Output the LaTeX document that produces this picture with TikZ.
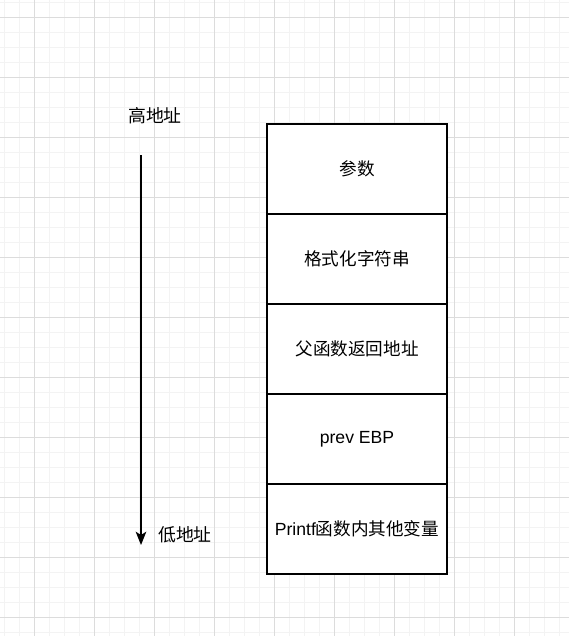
\documentclass[tikz,border=0pt]{standalone}
\usepackage{fontspec}
\setmainfont{Liberation Sans}
\newfontfamily\cjk{Noto Sans CJK SC}
\usetikzlibrary{arrows.meta}
\definecolor{minorgrid}{HTML}{F3F3F3}
\definecolor{majorgrid}{HTML}{DCDCDC}
\begin{document}
\begin{tikzpicture}[x=0.75pt,y=-0.75pt,
  minorline/.style={draw=minorgrid,line width=0.75pt},
  majorline/.style={draw=majorgrid,line width=0.75pt},
  cell/.style={draw=black,line width=1.1pt,fill=white,minimum width=135pt,minimum height=67.5pt,inner sep=0pt,font=\fontsize{13.2pt}{15pt}\selectfont},
  lbl/.style={inner sep=0pt,font=\fontsize{13.4pt}{15pt}\selectfont\cjk},
  arrowline/.style={draw=black,line width=1.1pt,-{Stealth[length=10pt,width=8pt,inset=2.5pt]}}]
\useasboundingbox (0,0) rectangle (569,636);
\fill[white] (0,0) rectangle (569,636);
% grid
\foreach \x in {4,19,...,569} \draw[minorline] (\x,0) -- (\x,636);
\foreach \y in {2,17,...,636} \draw[minorline] (0,\y) -- (569,\y);
\foreach \x in {34,94,...,569} \draw[majorline] (\x,0) -- (\x,636);
\foreach \y in {17,77,...,636} \draw[majorline] (0,\y) -- (569,\y);
% stack cells
\node[cell] (c1) at (357,169) {\cjk 参数};
\node[cell] (c2) at (357,259) {\cjk 格式化字符串};
\node[cell] (c3) at (357,349) {\cjk 父函数返回地址};
\node[cell] (c4) at (357,439) {prev EBP};
\node[cell] (c5) at (357,529) {Printf{\cjk 函数内其他变量}};
% labels
\node[lbl] (hi) at (155,116) {高地址};
\node[lbl] (lo) at (185,535) {低地址};
% arrow
\coordinate (atop) at (141,155);
\coordinate (abot) at (141,545);
\draw[arrowline] (atop) -- (abot);
\end{tikzpicture}
\end{document}
